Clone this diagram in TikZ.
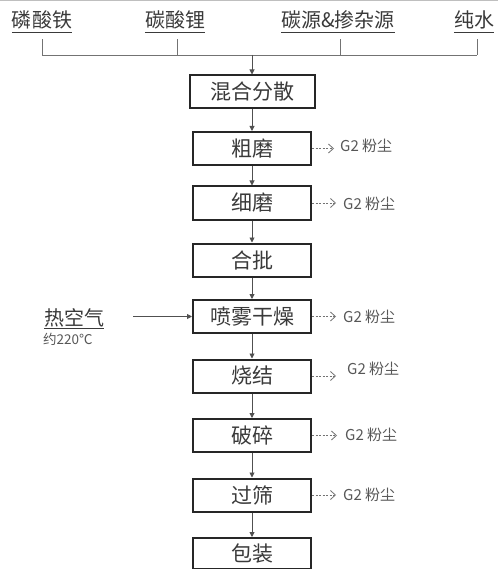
\documentclass[tikz,border=0pt]{standalone}
\usepackage{fontspec}
\setmainfont{Noto Sans CJK SC}
\usetikzlibrary{arrows.meta}
\definecolor{txt}{HTML}{3A3A3A}
\definecolor{ln}{HTML}{505050}
\begin{document}
\begin{tikzpicture}[x=1pt,y=-1pt,
 proc/.style={draw=black!85, line width=2pt, minimum width=118pt, minimum height=33pt, inner sep=0pt, font=\fontsize{21}{21}\selectfont, text=txt},
 lbl/.style={font=\fontsize{20}{20}\selectfont, text=txt, inner sep=0pt, anchor=base},
 uline/.style={draw=txt, line width=0.8pt},
 bus/.style={draw=ln!80, line width=0.9pt},
 flow/.style={draw=ln, line width=0.9pt, -{Triangle[length=5pt,width=5pt]}},
 dust/.style={draw=ln!80, line width=0.8pt, dash pattern=on 2pt off 1.5pt, -{Straight Barb[length=5pt,width=9pt]}},
 dlbl/.style={font=\fontsize{15}{15}\selectfont, text=txt!85, anchor=west, inner sep=0pt},
 tlbl/.style={font=\fontsize{13.5}{13.5}\selectfont, text=txt!85, anchor=west, inner sep=0pt}]
\useasboundingbox (0,0) rectangle (498,569);
\draw[gray!50, line width=1pt] (0,0.5) -- (498,0.5);

% top inputs
\node[lbl] (l1) at (42,28) {磷酸铁};
\node[lbl] (l2) at (175,28) {碳酸锂};
\node[lbl] (l3) at (338,28) {碳源\&掺杂源};
\node[lbl] (l4) at (474,28) {纯水};
\foreach \n in {l1,l2,l3,l4}
  \draw[uline] ([yshift=-4.5pt]\n.base west) -- ([yshift=-4.5pt]\n.base east);

\coordinate (b1) at (42,55);
\coordinate (b2) at (177,55);
\coordinate (b3) at (340,55);
\coordinate (b4) at (477,55);
\coordinate (bm) at (252,55);
\draw[bus] (b1) -- (b4);
\foreach \b in {b1,b2,b3,b4}
  \draw[bus] (\b) -- ++(0,-16);

% process boxes
\node[proc, minimum width=125pt] (mix) at (252,92) {混合分散};
\node[proc] (cg) at (252,148.5) {粗磨};
\node[proc] (fg) at (252,203) {细磨};
\node[proc] (hb) at (252,260) {合批};
\node[proc] (dry) at (252,316.5) {喷雾干燥};
\node[proc] (sj) at (252,376) {烧结};
\node[proc] (ps) at (252,435.5) {破碎};
\node[proc] (gs) at (252,495) {过筛};
\node[proc, minimum height=31pt] (bz) at (252,553.5) {包装};

\draw[flow] (bm) -- (mix.north);
\draw[flow] (mix) -- (cg);
\draw[flow] (cg) -- (fg);
\draw[flow] (fg) -- (hb);
\draw[flow] (hb) -- (dry);
\draw[flow] (dry) -- (sj);
\draw[flow] (sj) -- (ps);
\draw[flow] (ps) -- (gs);
\draw[flow] (gs) -- (bz);

% hot air
\node[lbl] (air) at (74,325) {热空气};
\draw[uline] ([yshift=-3pt]air.base west) -- ([yshift=-3pt]air.base east);
\node[tlbl] (airt) at (43,339) {约220℃};
\coordinate (airs) at (133,316.5);
\draw[flow] (airs) -- (dry.west);

% dust outputs
\node[dlbl] (d1) at (340,146) {G2 粉尘};
\node[dlbl] (d2) at (343,204) {G2 粉尘};
\node[dlbl] (d3) at (343,317) {G2 粉尘};
\node[dlbl] (d4) at (347,369) {G2 粉尘};
\node[dlbl] (d5) at (345,435) {G2 粉尘};
\node[dlbl] (d6) at (343,495) {G2 粉尘};
\draw[dust] (cg.east) -- ++(22,0);
\draw[dust] (fg.east) -- ++(24,0);
\draw[dust] (dry.east) -- ++(24,0);
\draw[dust] (sj.east) -- ++(24,0);
\draw[dust] (ps.east) -- ++(25,0);
\draw[dust] (gs.east) -- ++(24,0);
\end{tikzpicture}
\end{document}
